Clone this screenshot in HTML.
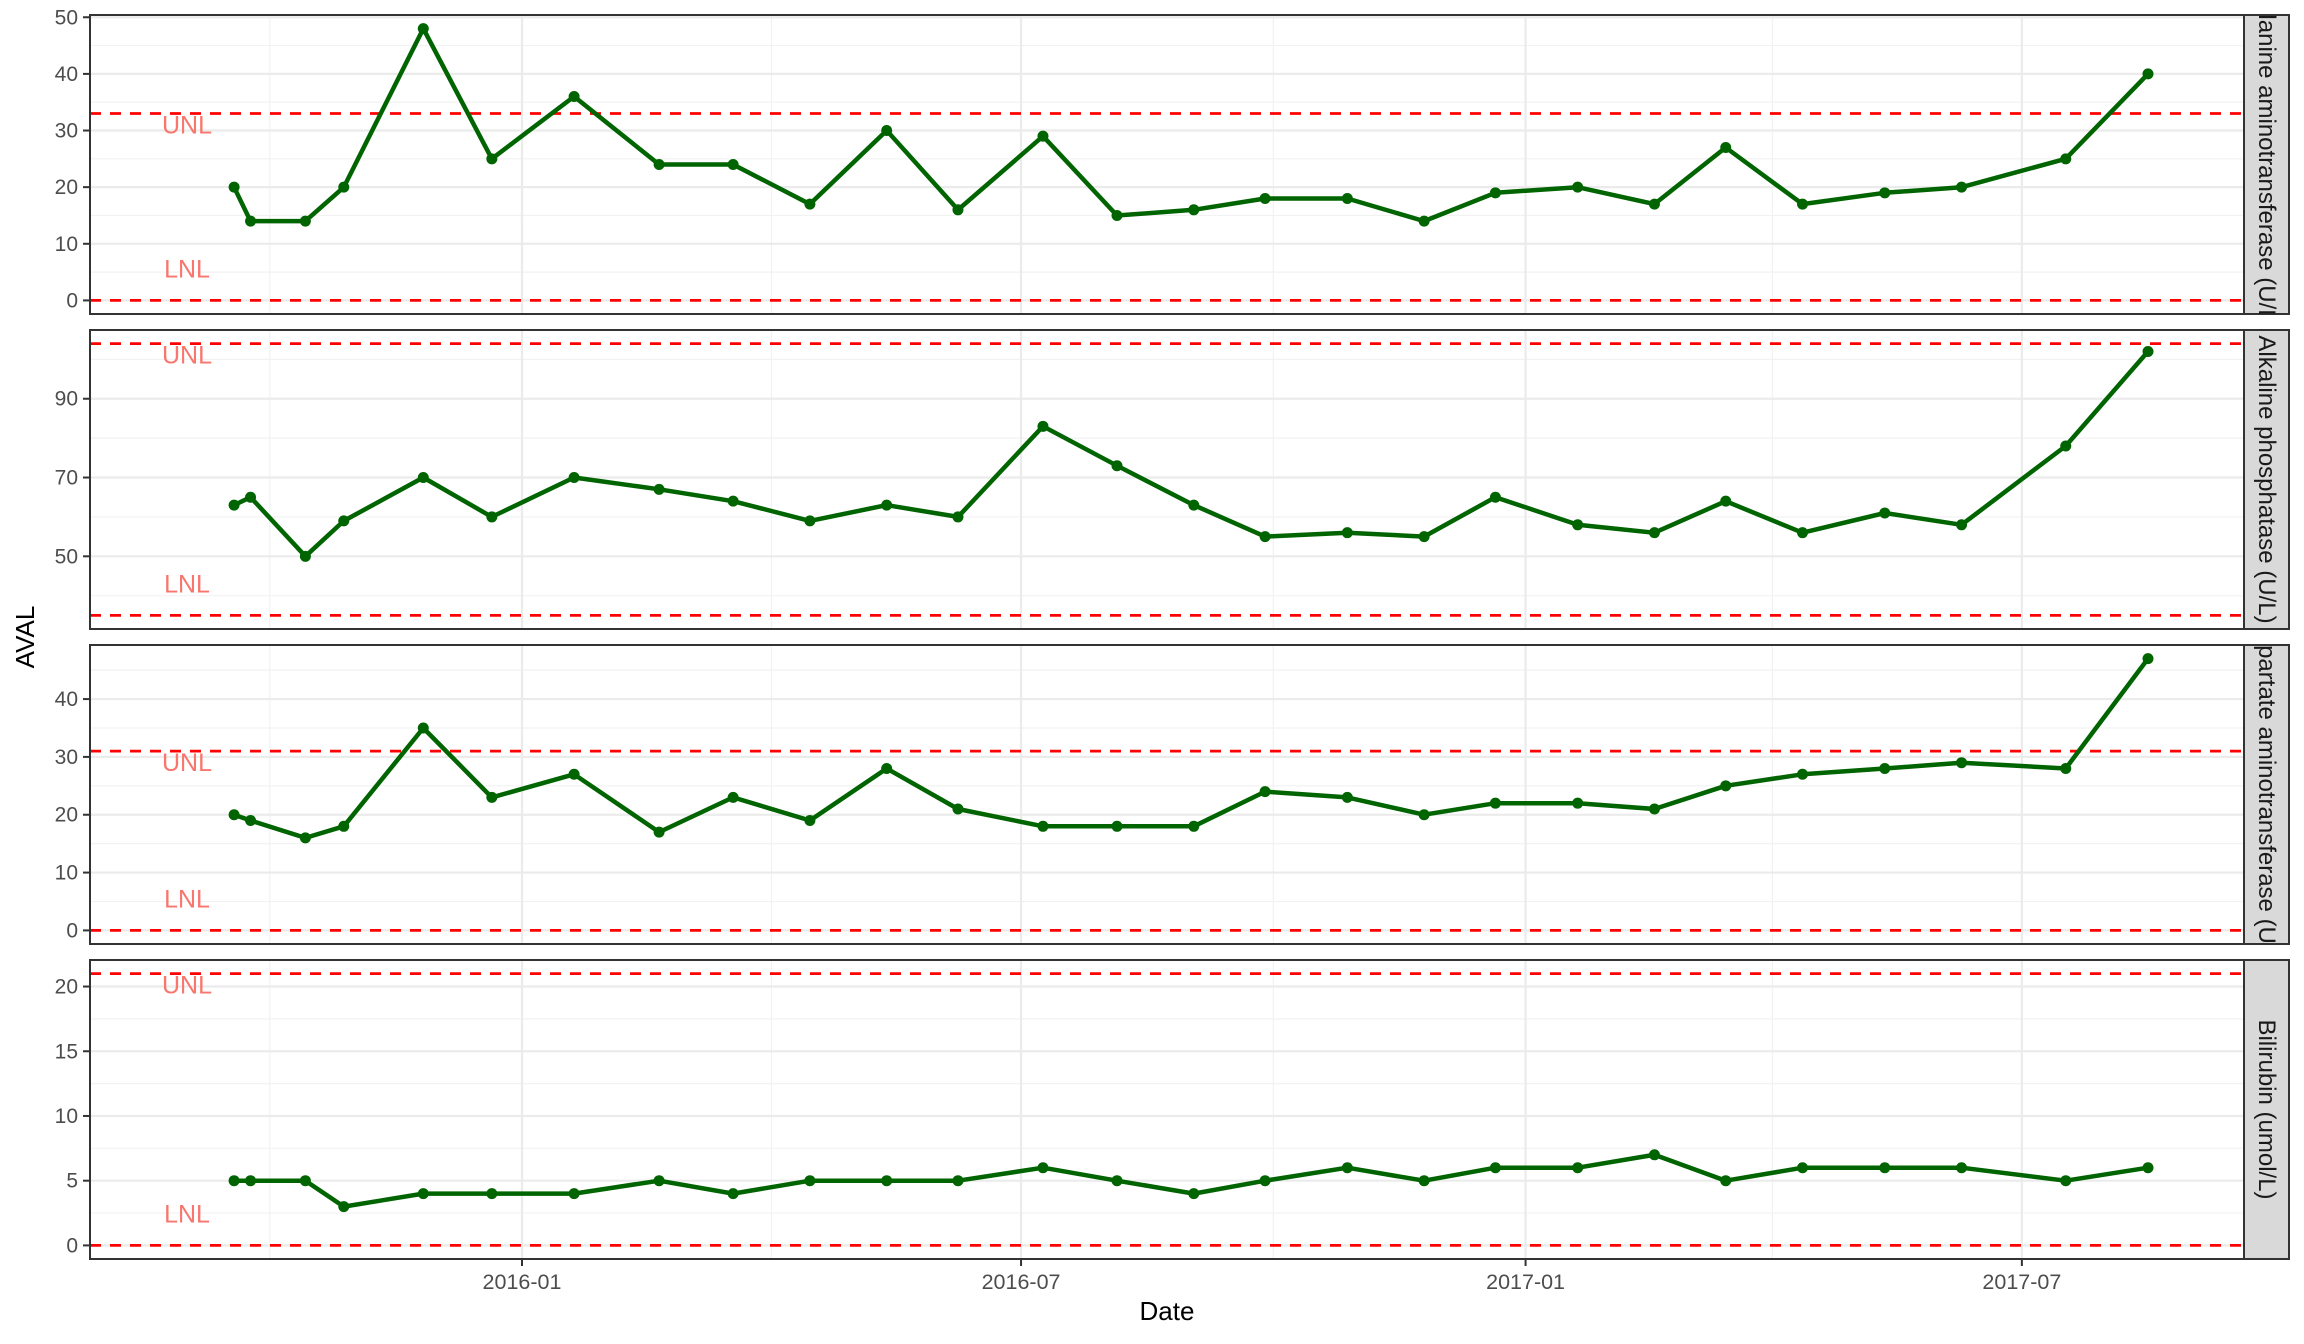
<!DOCTYPE html>
<html><head><meta charset="utf-8"><style>
html,body{margin:0;padding:0;background:#fff}
svg{display:block;font-family:"Liberation Sans",sans-serif}
</style></head><body>
<svg id="chart" width="2304" height="1344" viewBox="0 0 2304 1344"></svg>
<script>
const dates=["2015-09-18","2015-09-24","2015-10-14","2015-10-28","2015-11-26","2015-12-21","2016-01-20","2016-02-20","2016-03-18","2016-04-15","2016-05-13","2016-06-08","2016-07-09","2016-08-05","2016-09-02","2016-09-28","2016-10-28","2016-11-25","2016-12-21","2017-01-20","2017-02-17","2017-03-15","2017-04-12","2017-05-12","2017-06-09","2017-07-17","2017-08-16"];
const altVals=[20,14,14,20,48,25,36,24,24,17,30,16,29,15,16,18,18,14,19,20,17,27,17,19,20,25,40];
const alpVals=[63,65,50,59,70,60,70,67,64,59,63,60,83,73,63,55,56,55,65,58,56,64,56,61,58,78,102];
const astVals=[20,19,16,18,35,23,27,17,23,19,28,21,18,18,18,24,23,20,22,22,21,25,27,28,29,28,47];
const biliVals=[5,5,5,3,4,4,4,5,4,5,5,5,6,5,4,5,6,5,6,6,7,5,6,6,6,5,6];
const panelNames=["Alanine aminotransferase (U/L)","Alkaline phosphatase (U/L)","Aspartate aminotransferase (U/L)","Bilirubin (umol/L)"];
const unl=[33,104,31,21];
const lnl=[0,35,0,0];
const yTicks=[[0,10,20,30,40,50],[50,70,90],[0,10,20,30,40],[0,5,10,15,20]];
const yMinor=[[5,15,25,35,45],[40,60,80,100],[5,15,25,35,45],[2.5,7.5,12.5,17.5]];
const xTickLabels=["2016-01","2016-07","2017-01","2017-07"];
const xMinorDates=["2015-10-01","2016-04-01","2016-10-01","2017-04-01"];

const NS="http://www.w3.org/2000/svg";
const svg=document.getElementById('chart');
function mk(tag,attrs,parent){const e=document.createElementNS(NS,tag);for(const k in attrs)e.setAttribute(k,attrs[k]);(parent||svg).appendChild(e);return e;}
const L=90,R=2244,SW=45;
const tops=[15,330,645,960],PH=299;
const base=Date.UTC(2016,0,1);
function xs(d){const p=d.split('-').map(Number);const t=Date.UTC(p[0],p[1]-1,p[2]||1);return 522+(t-base)/86400000*2.742;}
const series=[altVals,alpVals,astVals,biliVals];
const defs=mk('defs',{});
series.forEach((vals,i)=>{
  const top=tops[i],bot=top+PH;
  const lo=Math.min(lnl[i],...vals),hi=Math.max(unl[i],...vals);
  const span=hi-lo,dmin=lo-span*0.05,dmax=hi+span*0.05;
  const ys=v=>bot-(v-dmin)/(dmax-dmin)*PH;
  const g=mk('g',{});
  
  
  mk('rect',{x:L,y:top,width:R-L,height:PH,fill:'#fff'},g);
  yMinor[i].forEach(v=>{const l=mk('line',{x1:L,x2:R,y1:ys(v),y2:ys(v),stroke:'#f2f2f2','stroke-width':1.2},g);});
  xMinorDates.forEach(d=>{const l=mk('line',{x1:xs(d),x2:xs(d),y1:top,y2:bot,stroke:'#f2f2f2','stroke-width':1.2},g);});
  yTicks[i].forEach(v=>{
    const l=mk('line',{x1:L,x2:R,y1:ys(v),y2:ys(v),stroke:'#ebebeb','stroke-width':2.2},g);
    
    mk('line',{x1:L-7,x2:L,y1:ys(v),y2:ys(v),stroke:'#333','stroke-width':2},g);
    const t=mk('text',{x:L-12,y:ys(v)+7,'text-anchor':'end','font-size':21,fill:'#4d4d4d'},g);
    t.textContent=v;
    
  });
  xTickLabels.forEach(d=>{const l=mk('line',{x1:xs(d),x2:xs(d),y1:top,y2:bot,stroke:'#ebebeb','stroke-width':2.2},g);});
  [[unl[i],'UNL',12],[lnl[i],'LNL',-31]].forEach(([v,lab,off])=>{
    const l=mk('line',{x1:L,x2:R,y1:ys(v),y2:ys(v),stroke:'#ff0000','stroke-width':2.8,'stroke-dasharray':'11,9'},g);
    
    const t=mk('text',{x:187,y:ys(v)+off+8,'text-anchor':'middle','font-size':25,fill:'#F8766D'},g);
    t.textContent=lab;
    
  });
  const pts=vals.map((v,j)=>xs(dates[j]).toFixed(1)+','+ys(v).toFixed(1)).join(' ');
  const pl=mk('polyline',{points:pts,fill:'none',stroke:'#006400','stroke-width':4.5,'stroke-linejoin':'round'},g);
  
  vals.forEach((v,j)=>{const c=mk('circle',{cx:xs(dates[j]),cy:ys(v),r:5.5,fill:'#006400'},g);});
  mk('rect',{x:L,y:top,width:R-L,height:PH,fill:'none',stroke:'#333','stroke-width':2},g);
  const cp=mk('clipPath',{id:'cp'+i},defs);
  mk('rect',{x:R,y:top,width:SW,height:PH},cp);
  const sr=mk('rect',{x:R,y:top,width:SW,height:PH,fill:'#d9d9d9',stroke:'#333','stroke-width':2},g);
  
  const cx=R+SW/2,cy=top+PH/2;
  const cg=mk('g',{'clip-path':`url(#cp${i})`},g);
  const st=mk('text',{x:cx,y:cy,'text-anchor':'middle','dominant-baseline':'central','font-size':24,fill:'#1a1a1a',transform:`rotate(90 ${cx} ${cy})`},cg);
  st.textContent=panelNames[i];
  
});
const bot=tops[3]+PH;
xTickLabels.forEach(d=>{
  mk('line',{x1:xs(d),x2:xs(d),y1:bot,y2:bot+7,stroke:'#333','stroke-width':2});
  const t=mk('text',{x:xs(d),y:bot+30,'text-anchor':'middle','font-size':21.5,fill:'#4d4d4d'});
  t.textContent=d;
  
});
const xt=mk('text',{x:(L+R)/2,y:1320,'text-anchor':'middle','font-size':26,fill:'#000'});
xt.textContent='Date';

const yt=mk('text',{x:34,y:637,'text-anchor':'middle','font-size':26,fill:'#000',transform:'rotate(-90 34 637)'});
yt.textContent='AVAL';

</script>
</body></html>
